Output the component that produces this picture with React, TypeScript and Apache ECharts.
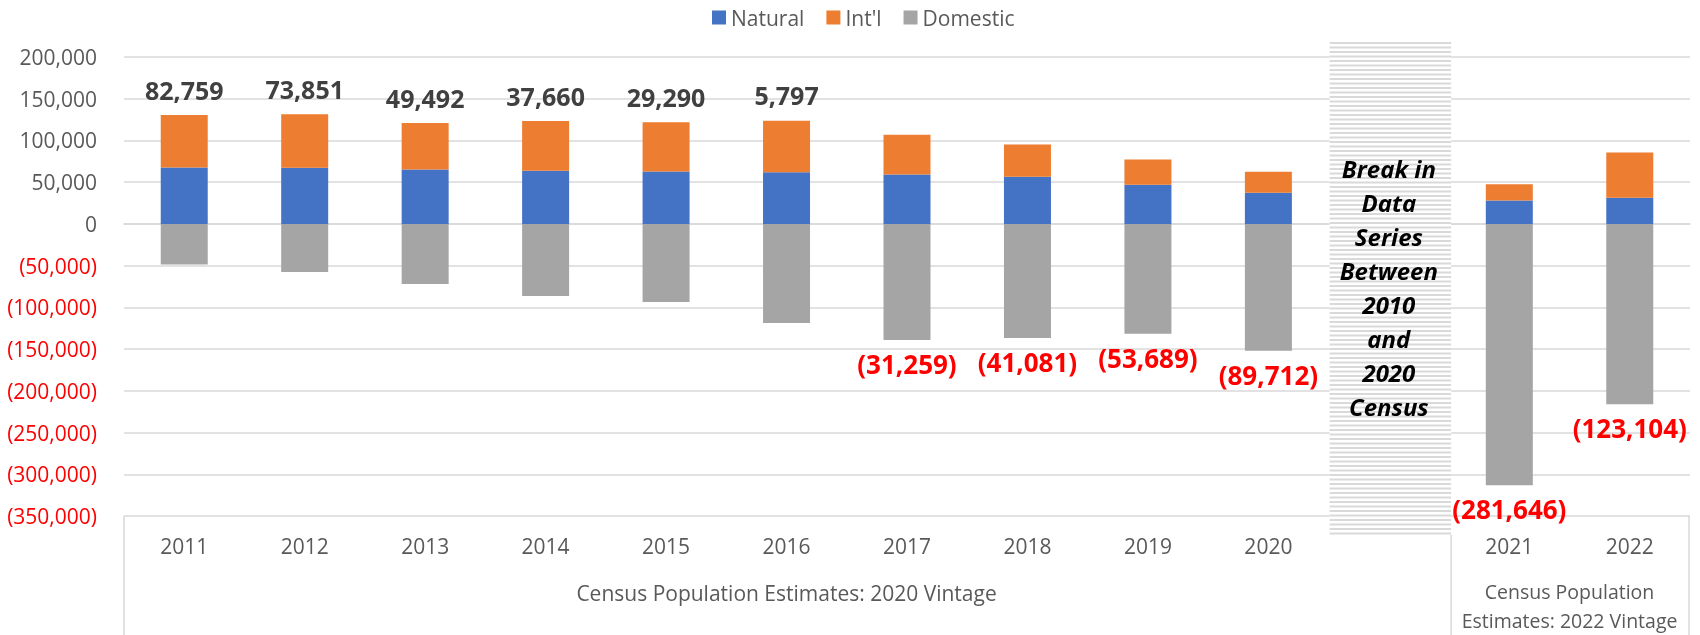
import React, { useEffect, useRef } from "react";
import * as echarts from "echarts";

const categories = ["2011", "2012", "2013", "2014", "2015", "2016", "2017", "2018", "2019", "2020", "", "2021", "2022"];
const natural = [67700, 67200, 65300, 63600, 62900, 62000, 59300, 56400, 46800, 37200, null, 28100, 31200];
const intl = [62700, 64100, 55500, 59600, 58800, 61600, 47500, 38900, 30500, 25200, null, 19500, 54500];
const domestic = [-48700, -57600, -72000, -86400, -93600, -118800, -139200, -136800, -131500, -151900, null, -313200, -216000];
const netLabels = [82759, 73851, 49492, 37660, 29290, 5797, -31259, -41081, -53689, -89712, null, -281646, -123104];
const yMin = -350000;
const yMax = 200000;
const yStep = 50000;
const breakIndex = 10;
const breakText = ["Break in", "Data", "Series", "Between", "2010", "and", "2020", "Census"];
const groups = [
  { label: "Census Population Estimates: 2020 Vintage", from: 0, to: 10 },
  { label: "Census Population\nEstimates: 2022 Vintage", from: 11, to: 12 },
];

const FONT = "'Open Sans', 'Noto Sans', sans-serif";
const GRAY_TEXT = "#595959";
const GRID_COLOR = "#D9D9D9";

const fmt = (v: number) => {
  const s = Math.abs(v).toLocaleString("en-US");
  return v < 0 ? `(${s})` : s;
};

export default function App() {
  const ref = useRef<HTMLDivElement>(null);
  useEffect(() => {
    if (!ref.current) return;
    const chart = echarts.init(ref.current, null, { renderer: "svg" });
    const option: any = {
      animation: false,
      textStyle: { fontFamily: FONT },
      legend: {
        top: 2,
        left: 707,
        icon: "rect",
        itemWidth: 14,
        itemHeight: 14,
        itemGap: 22,
        textStyle: { fontSize: 21, color: GRAY_TEXT, fontFamily: FONT },
        data: ["Natural", "Int'l", "Domestic"],
      },
      grid: { left: 124, right: 10, top: 57, bottom: 119, outerBoundsMode: "none", containLabel: false },
      xAxis: {
        type: "category",
        data: categories,
        axisTick: { show: false },
        axisLine: { show: true, lineStyle: { color: GRID_COLOR, width: 1.5 } },
        axisLabel: { color: GRAY_TEXT, fontSize: 21, fontFamily: FONT, margin: 19, interval: 0 },
      },
      yAxis: {
        type: "value",
        min: yMin,
        max: yMax,
        interval: yStep,
        axisLine: { show: false },
        axisTick: { show: false },
        splitLine: { lineStyle: { color: GRID_COLOR, width: 1.5 } },
        axisLabel: {
          fontSize: 21,
          fontFamily: FONT,
          margin: 27,
          formatter: (v: number) => fmt(Number(v)),
          color: (v: any) => (Number(v) < 0 ? "#FF0000" : GRAY_TEXT),
        },
      },
      series: [
        {
          name: "Natural",
          type: "bar",
          stack: "total",
          barWidth: 47,
          itemStyle: { color: "#4472C4" },
          data: natural,
        },
        {
          name: "Int'l",
          type: "bar",
          stack: "total",
          barWidth: 47,
          itemStyle: { color: "#ED7D31" },
          label: {
            position: "top",
            distance: 13,
            fontSize: 25,
            fontWeight: "bold",
            fontFamily: FONT,
            color: "#404040",
            formatter: (p: any) => fmt(netLabels[p.dataIndex] as number),
          },
          data: intl.map((v, i) => ({
            value: v,
            label: { show: netLabels[i] != null && (netLabels[i] as number) > 0 },
          })),
        },
        {
          name: "Domestic",
          type: "bar",
          stack: "total",
          barWidth: 47,
          itemStyle: { color: "#A5A5A5" },
          label: {
            position: "bottom",
            distance: 11,
            fontSize: 26,
            fontWeight: "bold",
            fontFamily: FONT,
            color: "#FF0000",
            formatter: (p: any) => fmt(netLabels[p.dataIndex] as number),
          },
          data: domestic.map((v, i) => ({
            value: v,
            label: { show: netLabels[i] != null && (netLabels[i] as number) < 0 },
          })),
        },
      ],
    };
    chart.setOption(option);

    const cx = (i: number) => chart.convertToPixel({ xAxisIndex: 0 }, i) as number;
    const cy = (v: number) => chart.convertToPixel({ yAxisIndex: 0 }, v) as number;
    const w = cx(1) - cx(0);
    const yb = cy(yMin);
    const yt = cy(yMax);
    const H = 635;

    const elements: any[] = [];
    // break hatch
    const hx0 = cx(breakIndex) - w / 2 + 1;
    const hx1 = cx(breakIndex) + w / 2 + 2;
    const hy0 = yt - 15;
    const hy1 = yb + 19;
    elements.push({
      type: "rect",
      z: 50,
      shape: { x: hx0, y: hy0, width: hx1 - hx0, height: hy1 - hy0 },
      style: { fill: "#FFFFFF" },
    });
    for (let y = hy0; y < hy1; y += 4.5) {
      elements.push({
        type: "rect",
        z: 51,
        shape: { x: hx0, y, width: hx1 - hx0, height: 2 },
        style: { fill: GRID_COLOR },
      });
    }
    elements.push({
      type: "text",
      z: 60,
      x: cx(breakIndex),
      y: (yt + yb) / 2 + 1,
      style: {
        text: breakText.join("\n"),
        fill: "#000000",
        fontSize: 24,
        fontWeight: "bold",
        fontStyle: "italic",
        fontFamily: FONT,
        lineHeight: 34,
        align: "center",
        verticalAlign: "middle",
      },
    });
    // multi-level axis lines
    const lineStyle = { stroke: GRID_COLOR, lineWidth: 1.5 };
    const leftX = cx(0) - w / 2;
    const midX = cx(11) - w / 2 + 2;
    const rightX = cx(12) + w / 2 - 1;
    elements.push({ type: "line", z: 55, shape: { x1: leftX, y1: yb, x2: leftX, y2: H }, style: lineStyle });
    elements.push({ type: "line", z: 55, shape: { x1: midX, y1: hy1, x2: midX, y2: H }, style: lineStyle });
    elements.push({ type: "line", z: 55, shape: { x1: rightX, y1: yb, x2: rightX, y2: H }, style: lineStyle });
    // group labels
    groups.forEach((g, gi) => {
      const x0 = cx(g.from) - w / 2;
      const x1 = cx(g.to) + w / 2;
      elements.push({
        type: "text",
        z: 60,
        x: (x0 + x1) / 2,
        y: gi === 0 ? 593 : 606,
        style: {
          text: g.label,
          fill: GRAY_TEXT,
          fontSize: gi === 0 ? 21 : 19.5,
          fontFamily: FONT,
          lineHeight: 29,
          align: "center",
          verticalAlign: "middle",
        },
      });
    });
    chart.setOption({ graphic: { elements } });

    return () => chart.dispose();
  }, []);
  return <div ref={ref} style={{ position: "fixed", left: 0, top: 0, width: 1700, height: 635 }} />;
}
